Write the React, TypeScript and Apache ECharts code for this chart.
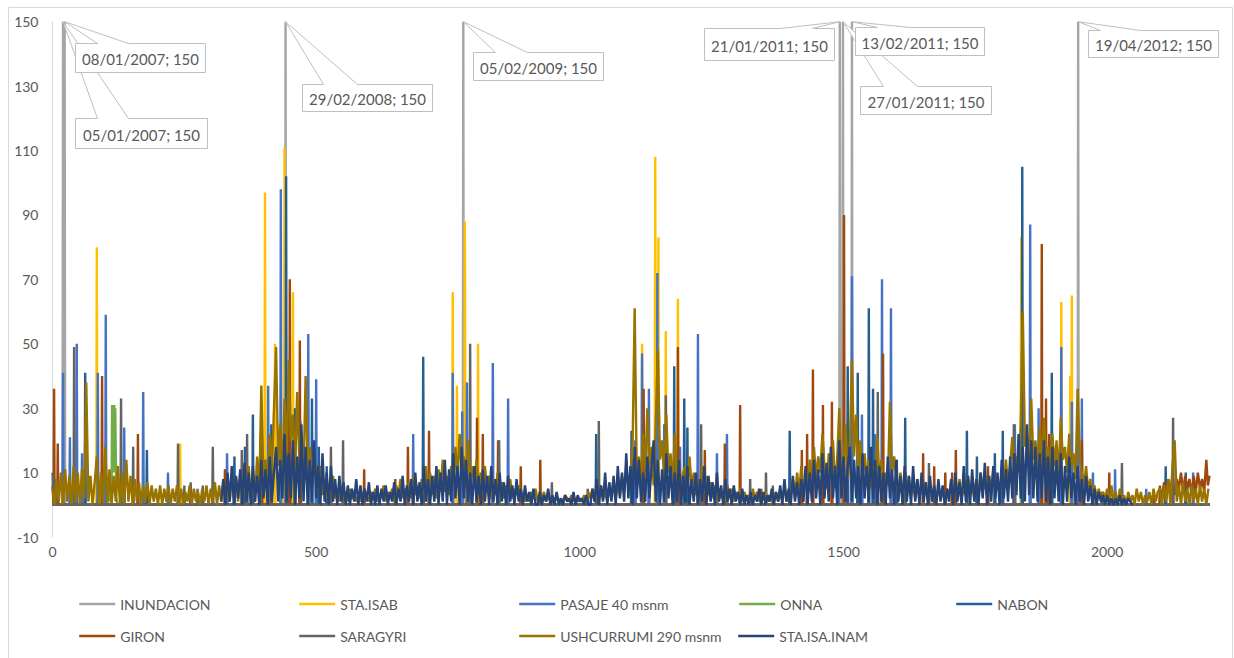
import React, { useEffect, useRef } from 'react';
import * as echarts from 'echarts';

// Day index (row number of the daily record) and flow values per station.

const seriesNames = [
  'INUNDACION',
  'STA.ISAB',
  'PASAJE 40 msnm',
  'ONNA',
  'NABON',
  'GIRON',
  'SARAGYRI',
  'USHCURRUMI 290 msnm',
  'STA.ISA.INAM',
];

// Flood events: row index, date and flag value
const floodDays = [20, 23, 442, 779, 1493, 1499, 1516, 1945];
const floodDates = ['05/01/2007', '08/01/2007', '29/02/2008', '05/02/2009', '21/01/2011', '27/01/2011', '13/02/2011', '19/04/2012'];
const floodValues = [150, 150, 150, 150, 150, 150, 150, 150];

const inundacion = [
  [0, 0], [19, 0], [20, 150], [21, 0], [22, 0], [23, 150], [24, 0], [441, 0], [442, 150], [443, 0],
  [778, 0], [779, 150], [780, 0], [1492, 0], [1493, 150], [1494, 0], [1498, 0], [1499, 150], [1500, 0],
  [1515, 0], [1516, 150], [1517, 0], [1944, 0], [1945, 150], [1946, 0], [2195, 0],
];

const staIsab = [
  [0, 0], [83, 0], [84, 80], [85, 0], [241, 0], [242, 19], [243, 0], [402, 0], [403, 97], [404, 0],
  [421, 0], [422, 50], [423, 0], [439, 0], [440, 111], [441, 0], [455, 0], [456, 66], [457, 0],
  [758, 0], [759, 66], [760, 0], [766, 0], [767, 37], [768, 0], [781, 0], [782, 88], [783, 0],
  [806, 0], [807, 50], [808, 0], [1117, 0], [1118, 50], [1119, 0], [1142, 0], [1143, 108], [1144, 10],
  [1148, 12], [1149, 83], [1150, 0], [1162, 0], [1163, 54], [1164, 0], [1185, 0], [1186, 64], [1187, 0],
  [1836, 0], [1837, 83], [1838, 0], [1912, 0], [1913, 63], [1914, 0], [1929, 0], [1930, 40], [1931, 6],
  [1932, 8], [1933, 65], [1934, 0], [1976, 0], [1977, 5], [1978, 0], [2195, 0],
];

const pasaje = [
  [0, 0], [19, 0], [20, 41], [21, 0], [32, 0], [33, 21], [34, 0], [45, 0], [46, 50], [47, 0],
  [55, 0], [56, 16], [57, 0], [85, 0], [86, 41], [87, 0], [100, 0], [101, 59], [102, 0], [135, 0],
  [136, 24], [137, 0], [171, 0], [172, 35], [173, 0], [218, 0], [219, 10], [220, 0], [330, 0], [331, 16],
  [332, 0], [361, 0], [362, 12], [363, 0], [394, 0], [395, 22], [396, 0], [408, 0], [409, 37], [410, 0],
  [432, 0], [433, 98], [434, 0], [449, 0], [450, 30], [451, 0], [469, 0], [470, 26], [471, 0],
  [484, 0], [485, 53], [486, 0], [499, 0], [500, 39], [501, 0], [683, 0], [684, 22], [685, 0],
  [758, 0], [759, 41], [760, 0], [776, 0], [777, 29], [778, 0], [785, 0], [786, 38], [787, 0],
  [834, 0], [835, 44], [836, 0], [863, 0], [864, 33], [865, 0], [1104, 0], [1105, 20], [1106, 0],
  [1117, 0], [1118, 47], [1119, 0], [1130, 0], [1131, 36], [1132, 0], [1146, 0], [1147, 72], [1148, 0],
  [1159, 0], [1160, 25], [1161, 0], [1189, 0], [1190, 18], [1191, 0], [1223, 0], [1224, 53], [1225, 0],
  [1259, 0], [1260, 16], [1261, 0], [1278, 0], [1279, 22], [1280, 0], [1489, 0], [1490, 20], [1491, 0],
  [1515, 0], [1516, 71], [1517, 0], [1534, 0], [1535, 28], [1536, 0], [1559, 0], [1560, 22], [1561, 0],
  [1572, 0], [1573, 70], [1574, 0], [1589, 0], [1590, 61], [1591, 0], [1824, 0], [1825, 25], [1826, 0],
  [1853, 0], [1854, 87], [1855, 0], [1869, 0], [1870, 30], [1871, 0], [1889, 0], [1890, 20], [1891, 0],
  [1912, 0], [1913, 49], [1914, 0], [1932, 0], [1933, 32], [1934, 0], [1944, 0], [1945, 22], [1946, 0],
  [1951, 0], [1952, 33], [1953, 0], [1972, 0], [1973, 10], [1974, 0], [2014, 0], [2015, 11], [2016, 0],
  [2073, 0], [2074, 5], [2075, 0], [2162, 0], [2163, 10], [2164, 0], [2195, 0],
];

const onna = [
  [104, 0], [108, 2], [110, 8], [112, 1], [113, 31], [114, 12], [115, 30], [116, 10], [117, 31],
  [118, 12], [119, 30], [121, 2], [124, 0],
];

const nabon = [
  [0, 0], [61, 0], [62, 41], [63, 0], [178, 0], [179, 17], [180, 0], [344, 0], [345, 15], [346, 0],
  [364, 0], [365, 18], [366, 0], [379, 0], [380, 28], [381, 0], [394, 0], [395, 20], [396, 0],
  [414, 0], [415, 25], [416, 0], [442, 0], [443, 102], [444, 0], [448, 0], [449, 35], [450, 0],
  [459, 0], [460, 30], [461, 0], [469, 0], [470, 22], [471, 0], [491, 0], [492, 33], [493, 0],
  [504, 0], [505, 18], [506, 0], [519, 0], [520, 12], [521, 0], [702, 0], [703, 46], [704, 0],
  [1030, 0], [1031, 22], [1032, 0], [1097, 0], [1098, 23], [1099, 0], [1178, 0], [1179, 43], [1180, 0],
  [1197, 0], [1198, 33], [1199, 0], [1203, 0], [1204, 24], [1205, 0], [1397, 0], [1398, 23], [1399, 0],
  [1507, 0], [1508, 43], [1509, 0], [1526, 0], [1527, 41], [1528, 0], [1547, 0], [1548, 61], [1549, 0],
  [1555, 0], [1556, 36], [1557, 0], [1600, 0], [1601, 14], [1602, 0], [1616, 0], [1617, 27], [1618, 0],
  [1733, 0], [1734, 23], [1735, 0], [1752, 0], [1753, 15], [1754, 0], [1786, 0], [1787, 16], [1788, 0],
  [1801, 0], [1802, 23], [1803, 0], [1838, 0], [1839, 105], [1840, 0], [1894, 0], [1895, 41], [1896, 0],
  [1989, 0], [1990, 4], [1991, 0], [2110, 0], [2111, 12], [2112, 0], [2148, 0], [2149, 10], [2150, 0],
  [2195, 0],
];

const giron = [
  [0, 6], [2, 0], [3, 36], [4, 0], [9, 0], [10, 19], [11, 0], [93, 0], [94, 40], [95, 0],
  [161, 0], [162, 22], [163, 0], [326, 0], [327, 11], [328, 0], [396, 0], [397, 16], [398, 0],
  [414, 0], [415, 16], [416, 0], [449, 0], [450, 70], [451, 0], [468, 0], [469, 51], [470, 0],
  [590, 0], [591, 11], [592, 0], [649, 0], [650, 8], [651, 0], [673, 0], [674, 18], [675, 0],
  [713, 0], [714, 23], [715, 0], [804, 0], [805, 27], [806, 0], [815, 0], [816, 22], [817, 0],
  [844, 0], [845, 20], [846, 0], [887, 0], [888, 12], [889, 0], [924, 0], [925, 14], [926, 0],
  [1120, 0], [1121, 36], [1122, 0], [1185, 0], [1186, 49], [1187, 0], [1236, 0], [1237, 17], [1238, 0],
  [1274, 0], [1275, 19], [1276, 0], [1303, 0], [1304, 31], [1305, 0], [1343, 0], [1344, 5], [1345, 0],
  [1420, 0], [1421, 17], [1422, 0], [1430, 0], [1431, 22], [1432, 0], [1441, 0], [1442, 42], [1443, 0],
  [1460, 0], [1461, 31], [1462, 0], [1477, 0], [1478, 32], [1479, 0], [1500, 0], [1501, 90], [1502, 0],
  [1574, 0], [1575, 47], [1576, 0], [1650, 0], [1651, 16], [1652, 0], [1671, 0], [1672, 12], [1673, 0],
  [1692, 0], [1693, 10], [1694, 0], [1705, 0], [1706, 10], [1707, 0], [1712, 0], [1713, 17], [1714, 0],
  [1773, 0], [1774, 12], [1775, 0], [1875, 0], [1876, 81], [1877, 0], [1883, 0], [1884, 33], [1885, 0],
  [1889, 0], [1890, 22], [1891, 0], [1951, 0], [1952, 20], [1953, 0], [2003, 0], [2004, 10], [2005, 0],
  [2088, 0], [2089, 3], [2090, 0], [2099, 0], [2100, 6], [2102, 1], [2104, 3], [2108, 7], [2112, 2],
  [2116, 8], [2120, 4], [2124, 9], [2128, 3], [2132, 8], [2136, 5], [2140, 10], [2144, 4], [2148, 9],
  [2152, 5], [2156, 8], [2160, 3], [2164, 9], [2168, 4], [2172, 10], [2176, 5], [2180, 8], [2184, 4],
  [2188, 14], [2191, 6], [2194, 9],
];

const saragyri = [
  [0, 10], [2, 0], [4, 8], [6, 0], [40, 0], [41, 49], [42, 0], [129, 0], [130, 33], [131, 0],
  [152, 0], [153, 18], [154, 0], [237, 0], [238, 19], [239, 0], [249, 0], [250, 6], [251, 0],
  [261, 0], [262, 7], [263, 0], [274, 0], [275, 5], [276, 0], [284, 0], [285, 6], [286, 0],
  [303, 0], [304, 18], [305, 0], [358, 0], [359, 17], [360, 0], [368, 0], [369, 22], [370, 0],
  [393, 0], [394, 14], [395, 0], [527, 0], [528, 18], [529, 0], [550, 0], [551, 20], [552, 0],
  [791, 0], [792, 50], [793, 0], [846, 0], [847, 20], [848, 0], [946, 0], [947, 7], [948, 0],
  [1014, 0], [1015, 5], [1016, 0], [1035, 0], [1036, 26], [1037, 0], [1162, 0], [1163, 34], [1164, 0],
  [1229, 0], [1230, 25], [1231, 0], [1322, 0], [1323, 8], [1324, 0], [1352, 0], [1353, 10], [1354, 0],
  [1365, 0], [1366, 6], [1367, 0], [1564, 0], [1565, 35], [1566, 0], [1616, 0], [1617, 10], [1618, 0],
  [1661, 0], [1662, 13], [1663, 0], [1822, 0], [1823, 25], [1824, 0], [2027, 0], [2028, 13], [2029, 0],
  [2124, 0], [2125, 27], [2126, 0], [2195, 0],
];

// USHCURRUMI: one reading every 4 rows, starting at row 0
const ushStart = 0;
const ushStep = 4;
const ushValues = [
  5, 0, 8, 1, 10, 0, 11, 1, 9, 0, 12, 1, 10, 0, 11, 2, 38, 1, 9, 0, 7, 15, 0, 10, 1,
  18, 1, 11, 0, 9, 1, 12, 0, 10, 0, 14, 1, 9, 0, 8, 1, 7, 0, 6, 1, 7, 0, 6, 1, 5,
  0, 6, 0, 5, 1, 6, 0, 5, 1, 6, 0, 5, 0, 4, 1, 6, 0, 5, 1, 4, 0, 5, 1, 6, 0,
  5, 1, 7, 0, 6, 1, 8, 0, 7, 1, 9, 2, 8, 1, 10, 2, 9, 1, 12, 2, 10, 1, 15, 3, 37,
  8, 14, 6, 22, 10, 30, 49, 12, 25, 8, 33, 15, 45, 20, 28, 10, 35, 14, 22, 8, 40, 12, 18, 6, 15,
  10, 4, 12, 3, 8, 2, 6, 3, 9, 2, 5, 1, 6, 2, 4, 1, 5, 2, 4, 1, 3, 1, 4, 2, 3,
  1, 4, 2, 5, 1, 3, 2, 6, 1, 4, 2, 5, 1, 6, 3, 8, 2, 5, 3, 7, 2, 9, 3, 6, 2,
  8, 3, 12, 4, 10, 3, 9, 2, 11, 5, 14, 4, 9, 3, 12, 6, 18, 8, 22, 10, 15, 5, 20, 7, 12,
  5, 14, 4, 10, 3, 12, 5, 9, 2, 8, 3, 10, 4, 7, 2, 6, 3, 8, 2, 5, 3, 6, 2, 4, 1,
  3, 1, 4, 2, 5, 1, 3, 2, 4, 1, 3, 1, 2, 1, 3, 1, 2, 1, 3, 2, 1, 3, 1, 2, 1,
  2, 1, 3, 1, 4, 2, 5, 1, 3, 2, 6, 2, 4, 1, 5, 3, 8, 2, 6, 3, 9, 4, 12, 5, 10,
  18, 61, 8, 15, 5, 22, 10, 30, 12, 18, 6, 25, 48, 14, 20, 8, 28, 10, 16, 6, 22, 8, 14, 5, 10,
  12, 4, 15, 5, 10, 3, 8, 2, 12, 4, 9, 3, 7, 2, 6, 1, 5, 2, 4, 1, 6, 2, 5, 1, 4,
  2, 5, 1, 4, 2, 3, 1, 5, 2, 4, 1, 3, 2, 4, 1, 3, 1, 2, 4, 1, 3, 2, 5, 1, 4,
  3, 8, 2, 10, 4, 12, 3, 9, 5, 14, 6, 18, 8, 15, 10, 22, 12, 5, 16, 8, 20, 6, 14, 30, 10,
  12, 25, 8, 18, 45, 15, 28, 10, 20, 6, 16, 8, 14, 5, 12, 6, 21, 8, 14, 5, 10, 6, 32, 10, 15,
  8, 3, 10, 4, 7, 2, 9, 3, 6, 2, 8, 3, 5, 2, 7, 3, 6, 2, 5, 1, 6, 2, 4, 2, 5,
  3, 7, 2, 6, 3, 8, 2, 5, 3, 9, 4, 6, 2, 8, 3, 10, 4, 7, 3, 9, 4, 11, 5, 8, 4,
  10, 5, 14, 6, 12, 21, 8, 15, 10, 25, 60, 18, 22, 12, 33, 14, 20, 10, 24, 12, 27, 15, 18, 10, 22,
  12, 20, 8, 27, 14, 18, 10, 22, 12, 16, 8, 36, 14, 10, 6, 12, 4, 8, 3, 6, 2, 5, 2, 4, 2,
  5, 0, 6, 1, 4, 0, 5, 1, 3, 0, 4, 1, 3, 0, 5, 1, 4, 0, 3, 1, 4, 0, 5, 1, 4,
  5, 0, 6, 1, 8, 0, 12, 20, 1, 6, 0, 7, 1, 5, 0, 6, 1, 5, 0, 6, 1, 5, 0, 5,
];

// STA.ISA.INAM: one reading every 4 rows, starting at row 320
const inamStart = 320;
const inamStep = 4;
const inamValues = [
  1, 8, 0, 10, 1, 12, 0, 9, 2, 11, 0, 13, 1, 10, 0, 12, 1, 9, 0, 14, 2, 11, 0, 15, 1,
  10, 18, 1, 14, 2, 22, 1, 16, 2, 20, 0, 15, 2, 25, 1, 18, 0, 14, 1, 20, 2, 12, 0, 16, 1,
  10, 0, 12, 1, 8, 0, 9, 1, 7, 0, 6, 0, 5, 1, 8, 0, 6, 0, 5, 1, 7, 0, 4, 0, 6,
  0, 5, 1, 6, 0, 4, 1, 7, 0, 5, 1, 9, 0, 6, 1, 8, 0, 10, 1, 7, 0, 12, 1, 8, 0,
  9, 1, 12, 0, 10, 1, 14, 0, 11, 1, 16, 2, 12, 0, 18, 2, 14, 1, 10, 0, 12, 1, 9, 0, 11,
  1, 9, 0, 12, 1, 8, 0, 10, 1, 7, 0, 9, 1, 6, 0, 8, 1, 5, 0, 6, 1, 4, 0, 5, 0,
  0, 4, 0, 3, 1, 5, 0, 3, 0, 4, 0, 2, 0, 3, 1, 2, 0, 4, 0, 3, 1, 2, 0, 3, 0,
  0, 5, 1, 8, 0, 6, 1, 10, 0, 7, 1, 9, 0, 12, 2, 10, 1, 16, 2, 12, 0, 18, 2, 14, 1,
  10, 1, 15, 2, 12, 20, 1, 14, 0, 11, 1, 16, 2, 12, 0, 10, 1, 14, 0, 9, 1, 12, 0, 8, 1,
  10, 0, 8, 1, 12, 0, 9, 1, 7, 0, 10, 1, 6, 0, 8, 1, 5, 0, 6, 1, 4, 0, 5, 0, 3,
  0, 4, 0, 3, 1, 5, 0, 4, 0, 3, 1, 5, 0, 4, 1, 6, 0, 8, 1, 5, 0, 9, 1, 7, 0,
  8, 1, 12, 0, 10, 1, 14, 2, 11, 0, 16, 2, 13, 1, 18, 2, 12, 0, 20, 2, 15, 1, 12, 18, 1,
  14, 2, 12, 0, 16, 2, 12, 1, 18, 2, 14, 0, 12, 1, 10, 0, 15, 2, 11, 0, 14, 1, 9, 0, 12,
  1, 9, 0, 12, 1, 8, 0, 10, 1, 7, 0, 9, 1, 6, 0, 8, 1, 6, 0, 5, 1, 8, 0, 10, 1,
  7, 0, 12, 1, 9, 0, 11, 1, 8, 0, 10, 2, 13, 0, 9, 1, 12, 2, 10, 0, 14, 2, 11, 1, 15,
  2, 16, 3, 22, 2, 18, 1, 25, 3, 20, 2, 18, 1, 16, 2, 20, 1, 15, 0, 18, 2, 14, 1, 16, 0,
  12, 1, 15, 2, 10, 0, 12, 1, 8, 0, 9, 1, 6, 0, 5, 0, 4, 1, 3, 0, 3, 0, 2, 0, 2,
  0, 3, 0, 2, 0, 2, 1, 0,
];

const xTickValues = [0, 500, 1000, 1500, 2000];

// ---- styling ----
const palette = ['#A5A5A5', '#FFC000', '#4472C4', '#70AD47', '#255E91', '#9E480E', '#636363', '#997300', '#264478'];
const textGray = '#595959';
const axisGray = '#D9D9D9';
const FONT = 'Lato, "Noto Sans", sans-serif';

// legend slot for each series: [left, top]
const legendSlots = [
  [78, 597], [298, 597], [518, 597], [738, 597], [955, 597],
  [78, 629], [298, 629], [518, 629], [737, 629],
];

// callout box placement relative to the flagged point
const calloutBoxes = [
  { dx: 12, dy: 96, w: 132, h: 30, a1: 22, a2: 53 },
  { dx: 10, dy: 21, w: 130, h: 29, a1: 22, a2: 53 },
  { dx: 16, dy: 62, w: 130, h: 27, a1: 21, a2: 55 },
  { dx: 10, dy: 30, w: 130, h: 28, a1: 22, a2: 54 },
  { dx: -136, dy: 6, w: 130, h: 32, a1: 76, a2: 108 },
  { dx: 17, dy: 64, w: 131, h: 28, a1: 23, a2: 57 },
  { dx: 3, dy: 5, w: 129, h: 28, a1: 22, a2: 55 },
  { dx: 10, dy: 8, w: 130, h: 27, a1: 12, a2: 52 },
];

function gridSeries(start: number, step: number, values: number[]) {
  return values.map((v, i) => [start + i * step, v]);
}

function buildOption() {
  const seriesData = [
    inundacion,
    staIsab,
    pasaje,
    onna,
    nabon,
    giron,
    saragyri,
    gridSeries(ushStart, ushStep, ushValues),
    gridSeries(inamStart, inamStep, inamValues),
  ];

  const lineSeries = seriesNames.map((name, i) => ({
    type: 'line',
    name,
    data: seriesData[i],
    symbol: 'none',
    showSymbol: false,
    silent: true,
    lineStyle: { width: 2.4, color: palette[i] },
    itemStyle: { color: palette[i] },
    z: 2,
  }));

  const calloutSeries = {
    type: 'custom',
    name: 'callouts',
    coordinateSystem: 'cartesian2d',
    silent: true,
    clip: false,
    z: 5,
    encode: { x: 0, y: 1 },
    data: floodDays.map((d, i) => [d, floodValues[i]]),
    renderItem: (params: any, api: any) => {
      const i = params.dataIndex;
      const pt = api.coord([api.value(0), api.value(1)]);
      const b = calloutBoxes[i];
      const L = Math.round(pt[0] + b.dx) + 0.5;
      const T = Math.round(pt[1] + b.dy) + 0.5;
      const R = L + b.w;
      const B = T + b.h;
      return {
        type: 'group',
        children: [
          {
            type: 'polygon',
            shape: {
              points: [[L, T], [L + b.a1, T], [pt[0], pt[1]], [L + b.a2, T], [R, T], [R, B], [L, B]],
            },
            style: { fill: '#ffffff', stroke: '#BFBFBF', lineWidth: 1 },
          },
          {
            type: 'text',
            style: {
              x: L + b.w / 2,
              y: T + b.h / 2 + 1,
              text: `${floodDates[i]}; ${api.value(1)}`,
              align: 'center',
              verticalAlign: 'middle',
              fontSize: 15,
              fontFamily: FONT,
              fill: textGray,
            },
          },
        ],
      };
    },
  };

  const legends = seriesNames.map((name, i) => ({
    data: [name],
    left: legendSlots[i][0],
    top: legendSlots[i][1],
    padding: 0,
    itemWidth: 36,
    itemHeight: 14,
    selectedMode: false,
    itemStyle: { color: 'rgba(0,0,0,0)', borderColor: 'rgba(0,0,0,0)', borderWidth: 0, opacity: 0 },
    lineStyle: { width: 2.4 },
    textStyle: { color: textGray, fontSize: 14, fontFamily: FONT },
  }));

  return {
    animation: false,
    backgroundColor: '#ffffff',
    textStyle: { fontFamily: FONT },
    graphic: [
      {
        type: 'rect',
        silent: true,
        z: -10,
        shape: { x: 8.5, y: 7.5, width: 1224, height: 700 },
        style: { fill: 'none', stroke: axisGray, lineWidth: 1 },
      },
    ],
    legend: legends,
    grid: { left: 52.5, right: 24, top: 21.7, bottom: 121 },
    xAxis: {
      type: 'value',
      min: 0,
      max: 2195,
      interval: 500,
      axisLine: { show: true, onZero: true, lineStyle: { color: axisGray, width: 1 } },
      axisTick: { show: false },
      splitLine: { show: false },
      axisLabel: {
        color: textGray,
        fontSize: 14,
        fontFamily: FONT,
        margin: 7,
        showMaxLabel: false,
        formatter: (v: number) => (xTickValues.indexOf(v) >= 0 ? String(v) : ''),
      },
    },
    yAxis: {
      type: 'value',
      min: -10,
      max: 150,
      interval: 20,
      axisLine: { show: true, onZero: false, lineStyle: { color: axisGray, width: 1 } },
      axisTick: { show: false },
      splitLine: { show: false },
      axisLabel: { color: textGray, fontSize: 14, fontFamily: FONT, margin: 14 },
    },
    series: [...lineSeries, calloutSeries],
  };
}

export default function App() {
  const ref = useRef<HTMLDivElement>(null);
  useEffect(() => {
    if (!ref.current) return;
    const chart = echarts.init(ref.current, null, { renderer: 'svg' });
    chart.setOption(buildOption() as any);
    return () => {
      chart.dispose();
    };
  }, []);
  return (
    <div
      ref={ref}
      style={{ position: 'absolute', left: 0, top: 0, width: 1234, height: 658, background: '#ffffff' }}
    />
  );
}
